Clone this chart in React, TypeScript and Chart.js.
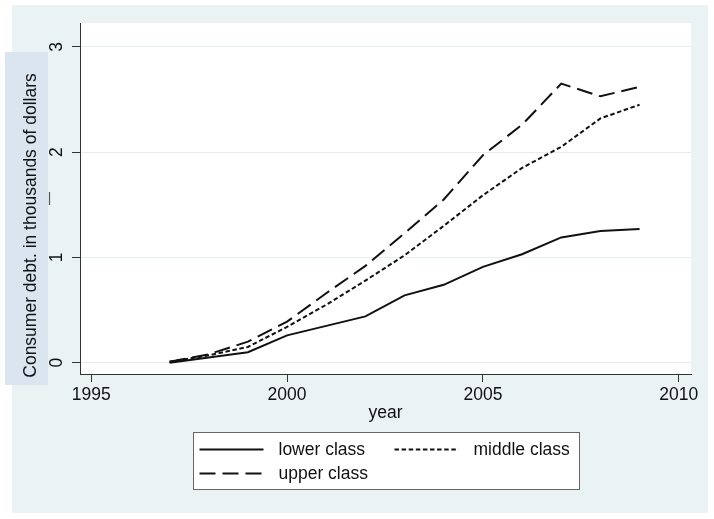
import { useEffect, useRef } from "react";
import { Chart, registerables } from "chart.js";

Chart.register(...registerables);

// ---- data ----
const years = [1997, 1998, 1999, 2000, 2001, 2002, 2003, 2004, 2005, 2006, 2007, 2008, 2009];
const lowerClass = [0.0, 0.05, 0.1, 0.26, 0.35, 0.44, 0.64, 0.74, 0.91, 1.03, 1.19, 1.25, 1.27];
const middleClass = [0.01, 0.07, 0.15, 0.34, 0.55, 0.78, 1.02, 1.3, 1.59, 1.85, 2.05, 2.32, 2.45];
const upperClass = [0.01, 0.08, 0.2, 0.39, 0.66, 0.92, 1.23, 1.55, 1.97, 2.26, 2.65, 2.53, 2.62];
const seriesLabels = ["lower class", "middle class", "upper class"];
const xTicks = [1995, 2000, 2005, 2010];
const yTicks = [0, 1, 2, 3];
const xTitle = "year";
const yTitle = "Consumer debt. in thousands of dollars";

const FONT = "'Liberation Sans', Arial, Helvetica, sans-serif";
const FONT_SIZE = 17.5;
const INK = "#111111";
const BG = "#eaf2f3";
const TITLE_BOX = "#dae5f0";
const GRID = "#e4eef0";
const AXIS = "#333333";

const dashes = [[], [4.5, 2.6], [16, 7]];

const backgroundPlugin = {
  id: "stataBackground",
  beforeDraw(chart: any) {
    const { ctx, chartArea, width, height } = chart;
    ctx.save();
    ctx.fillStyle = "#ffffff";
    ctx.fillRect(0, 0, width, height);
    ctx.fillStyle = BG;
    ctx.fillRect(12, 5, 696, 508);
    ctx.fillStyle = "#ffffff";
    ctx.fillRect(chartArea.left, chartArea.top, chartArea.right - chartArea.left, chartArea.bottom - chartArea.top);
    // y-axis title box
    ctx.fillStyle = TITLE_BOX;
    ctx.fillRect(5, 52, 43, 333);
    ctx.fillStyle = INK;
    ctx.font = `${FONT_SIZE}px ${FONT}`;
    ctx.textAlign = "center";
    ctx.textBaseline = "alphabetic";
    ctx.translate(35.5, 225.5);
    ctx.rotate(-Math.PI / 2);
    ctx.fillText(yTitle, 0, 0);
    ctx.restore();
    // small stray mark
    ctx.save();
    ctx.strokeStyle = "#555555";
    ctx.lineWidth = 1.2;
    ctx.beginPath();
    ctx.moveTo(49.5, 192);
    ctx.lineTo(49.5, 205);
    ctx.stroke();
    ctx.restore();
  },
};

const legendPlugin = {
  id: "stataLegend",
  afterDraw(chart: any) {
    const { ctx, chartArea } = chart;
    const cx = (chartArea.left + chartArea.right) / 2;
    const w = 386;
    const h = 57;
    const left = Math.round(cx - w / 2) + 0.5;
    const top = 432.5;
    ctx.save();
    ctx.fillStyle = "#ffffff";
    ctx.fillRect(left, top, w, h);
    ctx.strokeStyle = "#666666";
    ctx.lineWidth = 1;
    ctx.strokeRect(left, top, w, h);
    const slots = [
      [6, 17],
      [201, 17],
      [6, 41],
    ];
    chart.data.datasets.forEach((ds: any, i: number) => {
      const [ox, oy] = slots[i];
      const x0 = left + ox;
      const y0 = top + oy;
      ctx.strokeStyle = ds.borderColor;
      ctx.lineWidth = ds.borderWidth;
      ctx.setLineDash(ds.borderDash || []);
      ctx.beginPath();
      ctx.moveTo(x0, y0);
      ctx.lineTo(x0 + 64, y0);
      ctx.stroke();
      ctx.setLineDash([]);
      ctx.fillStyle = INK;
      ctx.font = `${FONT_SIZE}px ${FONT}`;
      ctx.textAlign = "left";
      ctx.textBaseline = "middle";
      ctx.fillText(ds.label, x0 + 79, y0 + 1);
    });
    ctx.restore();
  },
};

export default function App() {
  const ref = useRef<HTMLCanvasElement | null>(null);

  useEffect(() => {
    document.body.style.margin = "0";
    const canvas = ref.current;
    if (!canvas) return;
    const series = [lowerClass, middleClass, upperClass];
    const chart = new Chart(canvas, {
      type: "line",
      data: {
        datasets: series.map((vals, i) => ({
          label: seriesLabels[i],
          data: years.map((x, j) => ({ x, y: vals[j] })),
          borderColor: INK,
          borderWidth: 2,
          borderDash: dashes[i],
          pointRadius: 0,
          tension: 0,
          fill: false,
        })),
      },
      options: {
        animation: false,
        responsive: false,
        maintainAspectRatio: false,
        layout: { padding: { left: 0, right: 23, top: 23, bottom: 95 } },
        plugins: {
          legend: { display: false },
          tooltip: { enabled: false },
        },
        scales: {
          x: {
            type: "linear",
            min: 1994.713,
            max: 2010.313,
            afterBuildTicks: (s: any) => {
              s.ticks = xTicks.map((v) => ({ value: v }));
            },
            afterFit: (s: any) => {
              s.height = 50;
            },
            grid: {
              drawOnChartArea: false,
              drawTicks: true,
              tickLength: 8,
              tickColor: AXIS,
              tickWidth: 1,
            },
            border: { display: true, color: AXIS, width: 1 },
            ticks: {
              font: { family: FONT, size: FONT_SIZE },
              color: INK,
              padding: 3,
              maxRotation: 0,
              autoSkip: false,
              includeBounds: false,
              callback: (v: any) => String(v),
            },
            title: {
              display: true,
              text: xTitle,
              font: { family: FONT, size: FONT_SIZE },
              color: INK,
              padding: { top: 0, bottom: 0 },
            },
          },
          y: {
            type: "linear",
            min: -0.107,
            max: 3.226,
            afterBuildTicks: (s: any) => {
              s.ticks = yTicks.map((v) => ({ value: v }));
            },
            afterFit: (s: any) => {
              s.width = 80;
            },
            grid: {
              color: GRID,
              lineWidth: 1,
              drawTicks: true,
              tickLength: 8,
              tickColor: AXIS,
              tickWidth: 1,
            },
            border: { display: true, color: AXIS, width: 1 },
            ticks: {
              font: { family: FONT, size: FONT_SIZE },
              color: INK,
              padding: 10,
              minRotation: 90,
              maxRotation: 90,
              crossAlign: "center",
              autoSkip: false,
              includeBounds: false,
              callback: (v: any) => String(v),
            },
            title: { display: false },
          },
        },
      },
      plugins: [backgroundPlugin, legendPlugin],
    } as any);
    return () => chart.destroy();
  }, []);

  return (
    <canvas
      ref={ref}
      width={714}
      height={519}
      style={{ display: "block", width: 714, height: 519 }}
    />
  );
}
